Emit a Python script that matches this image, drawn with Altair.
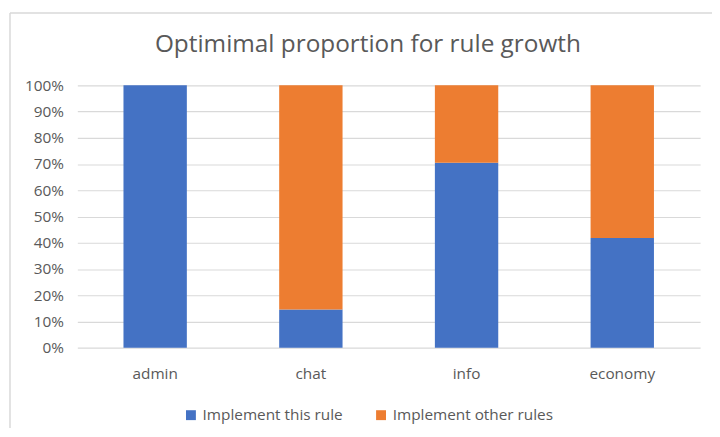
import altair as alt
import pandas as pd

categories = ["admin", "chat", "info", "economy"]
series_names = ["Implement this rule", "Implement other rules"]
this_rule = [1.000, 0.146, 0.705, 0.418]
other_rules = [0.000, 0.854, 0.295, 0.582]
y_ticks = [i / 10 for i in range(11)]

rows = []
for c, a, b in zip(categories, this_rule, other_rules):
    rows.append({"cat": c, "series": series_names[0], "value": a, "ord": 0})
    rows.append({"cat": c, "series": series_names[1], "value": b, "ord": 1})
df = pd.DataFrame(rows)

FONT = "Open Sans"
GRAY = "#595959"

bars = alt.Chart(df).mark_bar(stroke=None).encode(
    x=alt.X("cat:N", sort=categories,
            scale=alt.Scale(paddingInner=0.593, paddingOuter=0.2965),
            axis=alt.Axis(title=None, labelAngle=0, ticks=False, domain=False, grid=False,
                          labelPadding=19, labelFontSize=15.5, labelColor=GRAY,
                          labelFont=FONT)),
    y=alt.Y("value:Q", stack="zero",
            scale=alt.Scale(domain=[0, 1], nice=False),
            axis=alt.Axis(title=None, values=y_ticks, format=".0%", ticks=False,
                          domain=False, labelPadding=14, labelFontSize=15.5,
                          labelColor=GRAY, labelFont=FONT, gridColor="#d9d9d9",
                          gridWidth=1.2)),
    color=alt.Color("series:N", sort=series_names,
                    scale=alt.Scale(domain=series_names, range=["#4472C4", "#ED7D31"]),
                    legend=alt.Legend(title=None, orient="none", direction="horizontal",
                                      legendX=107, legendY=325, symbolType="square",
                                      symbolSize=100, symbolStrokeWidth=0,
                                      labelFontSize=15.5, labelColor=GRAY, labelFont=FONT,
                                      labelOffset=4, columnPadding=30, labelLimit=0)),
    order=alt.Order("ord:Q"),
)

border_top = alt.Chart(pd.DataFrame({"k": [0]})).mark_rule(color="#d9d9d9", strokeWidth=1.5).encode(
    x=alt.value(-68), x2=alt.value(660), y=alt.value(-73)
)
border_left = alt.Chart(pd.DataFrame({"k": [0]})).mark_rule(color="#d9d9d9", strokeWidth=1.5).encode(
    x=alt.value(-68), y=alt.value(-73), y2=alt.value(360)
)

chart = alt.layer(border_top, border_left, bars).properties(
    width=629, height=265,
    background="white",
    title=alt.TitleParams("Optimimal proportion for rule growth", font=FONT, fontSize=24.6,
                          fontWeight="normal", color=GRAY, offset=-46, dx=-21,
                          anchor="middle", frame="group"),
    autosize=alt.AutoSizeParams(type="none"),
    padding={"left": 70, "top": 76, "right": 12, "bottom": 79},
).configure_view(strokeWidth=0, stroke="transparent")

chart.save("out.html", embed_options={"renderer": "svg", "actions": False})
